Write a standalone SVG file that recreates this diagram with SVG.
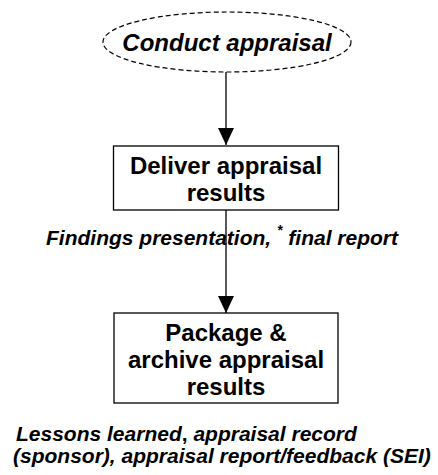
<svg xmlns="http://www.w3.org/2000/svg" width="438" height="475" viewBox="0 0 438 475">
<defs>
<marker id="arr" markerWidth="18" markerHeight="16" refX="17" refY="8" orient="auto" markerUnits="userSpaceOnUse">
<path d="M0,0 L17,8 L0,16 Z" fill="#000"/>
</marker>
<style>
.box{fill:#fff;stroke:#000;stroke-width:1.3}
.bt{font-family:"Liberation Sans",Arial,sans-serif;font-weight:bold;font-size:24px;text-anchor:middle;fill:#000}
.lbl{font-family:"Liberation Sans",Arial,sans-serif;font-weight:bold;font-style:italic;font-size:21px;fill:#000}
.edge{stroke:#000;stroke-width:1.3;fill:none}
</style>
</defs>
<rect width="438" height="475" fill="#fff"/>
<g id="edges">
<line class="edge" x1="226" y1="72" x2="226" y2="145" marker-end="url(#arr)"/>
<line class="edge" x1="226" y1="210" x2="226" y2="313" marker-end="url(#arr)"/>
</g>
<g id="conduct">
<ellipse cx="227" cy="42" rx="124" ry="30" fill="#fff" stroke="#000" stroke-width="1.2" stroke-dasharray="5,3"/>
<text class="bt" x="227" y="51" font-style="italic">Conduct appraisal</text>
</g>
<g id="deliver">
<rect class="box" x="113.5" y="146" width="225" height="64"/>
<text class="bt" x="226" y="174">Deliver appraisal</text>
<text class="bt" x="226" y="201">results</text>
</g>
<g id="label1">
<text class="lbl" x="46" y="245">Findings presentation, <tspan font-size="14" dy="-10">*</tspan><tspan dy="10"> final report</tspan></text>
</g>
<g id="package">
<rect class="box" x="114" y="313" width="224" height="90"/>
<text class="bt" x="226" y="341">Package &amp;</text>
<text class="bt" x="226" y="368">archive appraisal</text>
<text class="bt" x="226" y="395">results</text>
</g>
<g id="label2">
<text class="lbl" x="16" y="441">Lessons learned<tspan font-style="normal">,</tspan> appraisal record</text>
<text class="lbl" x="13" y="463">(sponsor), appraisal report/feedback (SEI)</text>
</g>
</svg>
